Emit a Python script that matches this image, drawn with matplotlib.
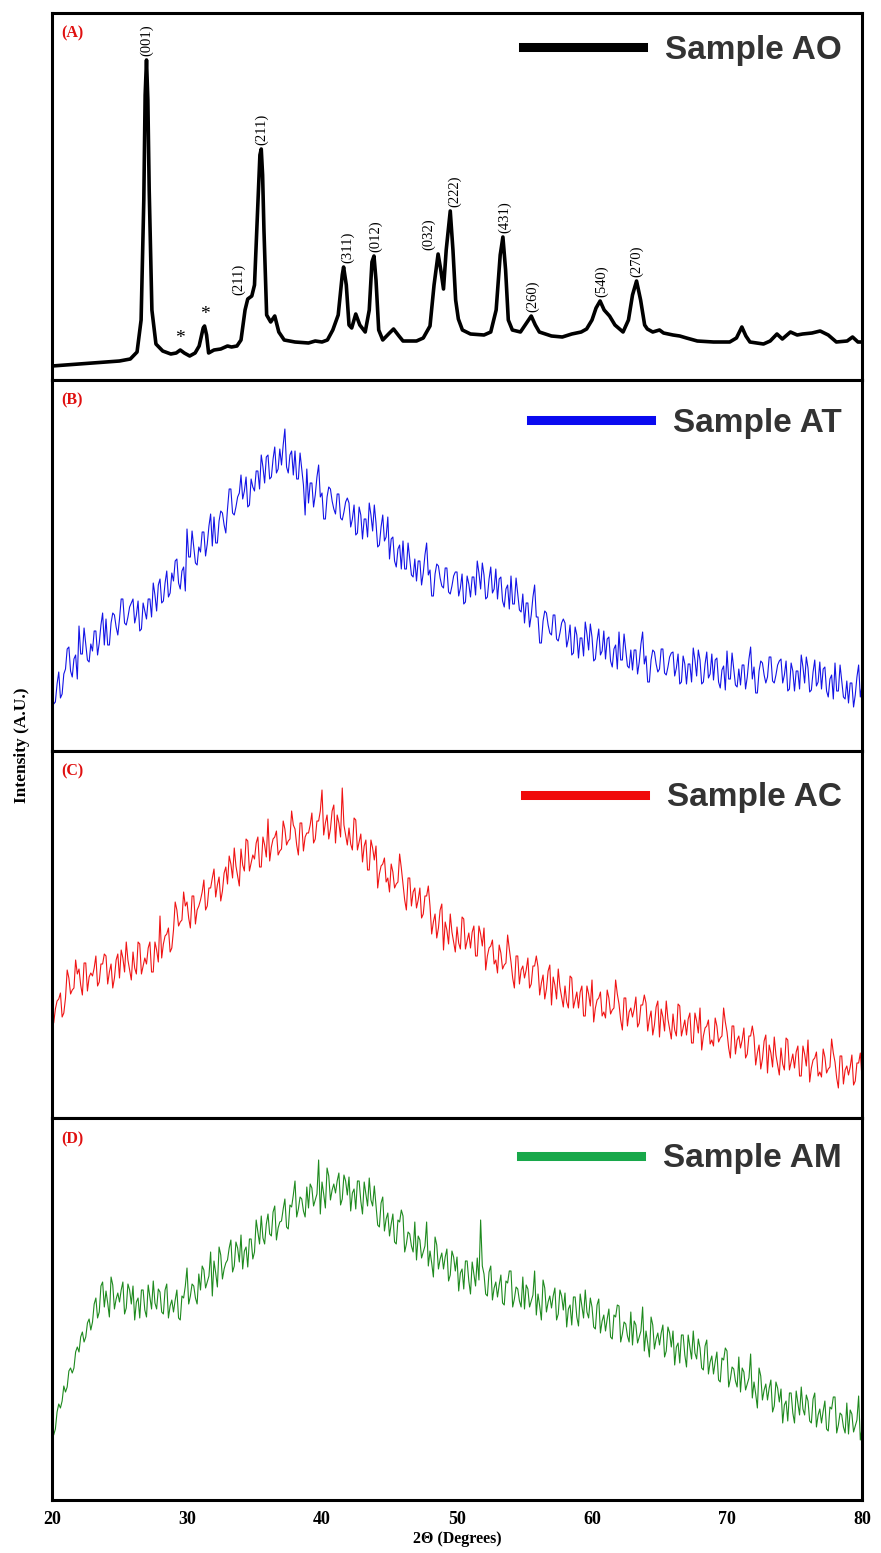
import numpy as np
import matplotlib
matplotlib.use("Agg")
import matplotlib.pyplot as plt

# 2-theta grid of the amorphous scans: readings every 0.25 deg plus the in-between ones
two_theta = np.arange(20, 80.001, 0.125)

# Sample AO - crystalline pattern (A.U.)
ao_x = [20.0, 21.0, 22.0, 23.0, 24.0, 25.0, 25.8, 26.3, 26.6, 26.8, 26.9, 27.0, 27.1, 27.2, 27.4, 27.7,
        28.2, 28.8, 29.2, 29.5, 29.8, 30.2, 30.6, 30.9, 31.2, 31.3, 31.45, 31.6, 32.0, 32.5,
        33.0, 33.3, 33.7, 34.0, 34.3, 34.5, 34.8, 35.0, 35.2, 35.4, 35.5, 35.6, 35.7, 35.9, 36.2,
        36.5, 36.8, 37.2, 38.0, 39.0, 39.5, 40.0, 40.4, 40.8, 41.2, 41.5, 41.6, 41.8, 42.0,
        42.2, 42.5, 42.8, 43.2, 43.5, 43.7, 43.85, 44.0, 44.2, 44.5, 45.0, 45.3, 45.7, 46.0,
        47.0, 47.5, 48.0, 48.3, 48.6, 48.8, 49.0, 49.2, 49.5, 49.7, 49.9, 50.1, 50.4, 51.0,
        52.0, 52.5, 52.9, 53.2, 53.4, 53.6, 53.8, 54.1, 54.7, 55.2, 55.5, 55.8, 56.1, 57.0,
        57.8, 58.5, 59.2, 59.6, 60.0, 60.3, 60.6, 60.9, 61.3, 61.7, 62.3, 62.7, 63.0, 63.3,
        63.6, 63.9, 64.1, 64.5, 65.0, 65.3, 66.0, 66.5, 67.0, 67.8, 69.0, 70.2, 70.7, 71.1,
        71.4, 71.7, 72.7, 73.2, 73.7, 74.1, 74.7, 75.2, 75.6, 76.3, 76.9, 77.5, 78.1, 78.9,
        79.3, 79.7, 80.0]
ao_y = [14, 15, 16, 17, 18, 19, 21, 28, 60, 180, 285, 320, 280, 190, 70, 36,
        29, 26, 27, 30, 27, 24, 27, 34, 52, 54, 45, 27, 30, 31,
        34, 33, 34, 40, 70, 81, 84, 95, 160, 225, 231, 205, 150, 65, 58,
        64, 48, 40, 38, 37, 39, 38, 40, 50, 65, 105, 113, 95, 55,
        52, 66, 55, 48, 70, 118, 124, 100, 50, 40, 47, 51, 44, 39,
        39, 42, 54, 95, 126, 110, 91, 130, 169, 130, 80, 61, 50, 46,
        45, 48, 70, 125, 143, 110, 60, 50, 48, 58, 64, 55, 48, 44,
        43, 46, 48, 51, 60, 72, 79, 70, 64, 55, 48, 60, 85, 99,
        80, 55, 51, 48, 50, 47, 45, 44, 42, 39, 38, 38, 42, 53,
        44, 38, 36, 39, 46, 41, 48, 45, 46, 47, 49, 45, 38, 39,
        43, 38, 38]

# hkl labels of sample AO
hkl = ['(001)', '(211)', '(211)', '(311)', '(012)', '(032)', '(222)', '(431)', '(260)', '(540)', '(270)']
hkl_pos = [27.0, 33.8, 35.5, 41.9, 44.0, 47.9, 49.85, 53.55, 55.6, 60.7, 63.3]
hkl_top = [320, 81, 231, 113, 124, 126, 169, 143, 64, 79, 99]
star_pos = [29.5, 31.3]
star_top = [30, 54]

# Sample AT, readings at 20.00, 20.25, ... 80.00
at_y = [71, 49, 79, 57, 82, 104, 74, 96,
        125, 97, 107, 89, 100, 120, 108, 138,
        132, 106, 138, 124, 132, 152, 126, 144,
        152, 136, 120, 148, 132, 152, 168, 140,
        172, 150, 180, 158, 170, 192, 162, 184,
        222, 194, 204, 186, 199, 219, 207, 237,
        234, 208, 240, 226, 242, 262, 236, 254,
        276, 260, 244, 272, 260, 280, 296, 268,
        296, 274, 304, 282, 286, 322, 278, 300,
        300, 272, 282, 236, 248, 268, 256, 286,
        258, 232, 264, 250, 237, 257, 231, 249,
        248, 232, 216, 244, 212, 232, 248, 220,
        228, 206, 236, 214, 192, 214, 184, 206,
        210, 182, 192, 174, 170, 190, 178, 208,
        181, 155, 187, 173, 163, 183, 157, 175,
        179, 163, 147, 175, 154, 174, 190, 162,
        176, 154, 184, 162, 152, 174, 144, 166,
        175, 147, 157, 139, 128, 148, 136, 166,
        134, 108, 140, 126, 116, 136, 110, 128,
        128, 112, 96, 124, 93, 113, 129, 101,
        114, 92, 122, 100, 92, 114, 84, 106,
        119, 91, 101, 83, 81, 101, 89, 119,
        95, 69, 101, 87, 82, 102, 76, 94,
        99, 83, 67, 95, 67, 87, 103, 75,
        91, 69, 99, 77, 71, 93, 63, 85,
        100, 72, 82, 64, 66, 86, 74, 104,
        84, 58, 90, 76, 74, 94, 68, 86,
        92, 76, 60, 88, 60, 80, 96, 68,
        83, 61, 91, 69, 62, 84, 54, 76,
        88, 60, 70, 52, 48, 68, 56, 86,
        66]
# Sample AT, readings at 20.125, 20.375, ... 79.875
at_mid = [47, 67, 53, 77, 102, 80, 92, 72,
          97, 123, 91, 107, 120, 96, 126, 106,
          106, 128, 136, 116, 152, 128, 134, 148,
          128, 150, 122, 140, 152, 134, 156, 166,
          148, 168, 154, 178, 190, 168, 180, 160,
          194, 220, 188, 204, 219, 195, 225, 205,
          208, 230, 238, 218, 262, 238, 244, 258,
          252, 274, 246, 264, 280, 262, 284, 294,
          272, 292, 278, 302, 306, 284, 296, 276,
          272, 298, 266, 282, 268, 244, 274, 254,
          232, 254, 262, 242, 257, 233, 239, 253,
          224, 246, 218, 236, 232, 214, 236, 246,
          204, 224, 210, 234, 212, 190, 202, 182,
          182, 208, 176, 192, 190, 166, 196, 176,
          155, 177, 185, 165, 183, 159, 165, 179,
          155, 177, 149, 167, 174, 156, 178, 188,
          152, 172, 158, 182, 172, 150, 162, 142,
          147, 173, 141, 157, 148, 124, 154, 134,
          108, 130, 138, 118, 136, 112, 118, 132,
          104, 126, 98, 116, 113, 95, 117, 127,
          90, 110, 96, 120, 112, 90, 102, 82,
          91, 117, 85, 101, 101, 77, 107, 87,
          69, 91, 99, 79, 102, 78, 84, 98,
          75, 97, 69, 87, 87, 69, 91, 101,
          67, 87, 73, 97, 91, 69, 81, 61,
          72, 98, 66, 82, 86, 62, 92, 72,
          58, 80, 88, 68, 94, 70, 76, 90,
          68, 90, 62, 80, 80, 62, 84, 94,
          59, 79, 65, 89, 82, 60, 72, 52,
          60, 86, 54, 70, 68, 44, 74, 54]

# Sample AC
ac_y = [137, 109, 119, 101, 120, 140, 128, 158,
        149, 123, 155, 141, 142, 162, 136, 154,
        162, 146, 130, 158, 140, 160, 176, 148,
        166, 144, 174, 152, 154, 176, 146, 168,
        202, 174, 184, 166, 188, 208, 196, 226,
        216, 190, 222, 208, 218, 238, 212, 230,
        249, 233, 217, 245, 234, 254, 270, 242,
        269, 247, 277, 255, 259, 281, 251, 273,
        299, 271, 281, 263, 269, 289, 277, 307,
        289, 263, 295, 281, 285, 305, 279, 297,
        328, 295, 279, 307, 275, 295, 330, 283,
        290, 268, 298, 276, 256, 278, 248, 270,
        272, 244, 254, 236, 226, 246, 234, 264,
        234, 208, 240, 226, 210, 230, 204, 222,
        212, 196, 180, 208, 168, 188, 204, 176,
        191, 169, 199, 177, 170, 192, 162, 184,
        190, 162, 172, 154, 145, 165, 153, 183,
        156, 130, 162, 148, 140, 160, 134, 152,
        151, 135, 119, 147, 113, 133, 149, 121,
        132, 110, 140, 118, 110, 132, 102, 124,
        138, 110, 120, 102, 100, 120, 108, 138,
        114, 88, 120, 106, 101, 121, 95, 113,
        115, 99, 83, 111, 81, 101, 117, 89,
        104, 82, 112, 90, 83, 105, 75, 97,
        110, 82, 92, 74, 72, 92, 80, 110,
        86, 60, 92, 78, 70, 90, 64, 82,
        81, 65, 49, 77, 45, 65, 81, 53,
        70, 48, 78, 56, 50, 72, 42, 64,
        78, 50, 60, 42, 41, 61, 49, 79,
        56, 30, 62, 48, 43, 63, 37, 55,
        40]
ac_mid = [95, 117, 125, 105, 148, 124, 130, 144,
          133, 155, 127, 145, 150, 132, 154, 164,
          134, 154, 140, 164, 168, 146, 158, 138,
          150, 176, 144, 160, 170, 146, 176, 156,
          160, 182, 190, 170, 216, 192, 198, 212,
          200, 222, 194, 212, 226, 208, 230, 240,
          221, 241, 227, 251, 262, 240, 252, 232,
          253, 279, 247, 263, 275, 251, 281, 261,
          257, 279, 287, 267, 297, 273, 279, 293,
          273, 295, 267, 285, 293, 275, 297, 307,
          283, 303, 289, 313, 303, 281, 293, 273,
          274, 300, 268, 284, 272, 248, 278, 258,
          230, 252, 260, 240, 254, 230, 236, 250,
          218, 240, 212, 230, 218, 200, 222, 232,
          184, 204, 190, 214, 196, 174, 186, 166,
          175, 201, 169, 185, 186, 162, 192, 172,
          148, 170, 178, 158, 173, 149, 155, 169,
          140, 162, 134, 152, 148, 130, 152, 162,
          123, 143, 129, 153, 141, 119, 131, 111,
          116, 142, 110, 126, 126, 102, 132, 112,
          96, 118, 126, 106, 128, 104, 110, 124,
          98, 120, 92, 110, 109, 91, 113, 123,
          87, 107, 93, 117, 109, 87, 99, 79,
          88, 114, 82, 98, 99, 75, 105, 85,
          68, 90, 98, 78, 100, 76, 82, 96,
          70, 92, 64, 82, 78, 60, 82, 92,
          53, 73, 59, 83, 73, 51, 63, 43,
          54, 80, 48, 64, 66, 42, 72, 52,
          36, 58, 66, 46, 69, 45, 51, 65,
          40, 62, 34, 52, 51, 33, 55, 65]

# Sample AM
am_y = [67, 71, 96, 99, 108, 129, 127, 148,
        148, 168, 163, 181, 178, 202, 188, 218,
        209, 183, 215, 201, 198, 218, 192, 210,
        214, 198, 182, 210, 183, 203, 219, 191,
        208, 186, 216, 194, 188, 210, 180, 202,
        232, 204, 214, 196, 210, 230, 218, 248,
        239, 213, 245, 231, 240, 260, 234, 252,
        265, 249, 233, 261, 248, 268, 284, 256,
        286, 264, 294, 272, 279, 301, 271, 293,
        319, 291, 301, 283, 292, 312, 300, 340,
        318, 292, 324, 310, 307, 327, 301, 319,
        323, 307, 291, 319, 286, 306, 322, 294,
        295, 273, 303, 281, 264, 286, 256, 278,
        284, 256, 266, 248, 240, 260, 248, 278,
        249, 223, 255, 241, 231, 251, 225, 243,
        243, 227, 211, 239, 206, 226, 242, 280,
        226, 204, 234, 212, 203, 225, 195, 217,
        229, 201, 211, 193, 191, 211, 199, 229,
        206, 180, 212, 198, 192, 212, 186, 204,
        207, 191, 175, 203, 174, 194, 210, 182,
        193, 171, 201, 179, 169, 191, 161, 183,
        194, 166, 176, 158, 155, 175, 163, 193,
        169, 143, 175, 161, 155, 175, 149, 167,
        169, 153, 137, 165, 133, 153, 169, 141,
        152, 130, 160, 138, 126, 148, 118, 140,
        149, 121, 131, 113, 108, 128, 116, 146,
        118, 92, 124, 110, 100, 120, 94, 112,
        111, 95, 79, 107, 77, 97, 113, 85,
        99, 77, 107, 85, 77, 99, 69, 91,
        103, 75, 85, 67, 66, 86, 74, 104,
        72]
am_mid = [65, 88, 92, 114, 113, 132, 132, 153,
          163, 158, 177, 170, 196, 182, 214, 193,
          197, 223, 191, 207, 210, 186, 216, 196,
          180, 202, 210, 190, 215, 191, 197, 211,
          188, 210, 182, 200, 200, 182, 204, 214,
          196, 216, 202, 226, 234, 212, 224, 204,
          227, 253, 221, 237, 252, 228, 258, 238,
          231, 253, 261, 241, 280, 256, 262, 276,
          266, 288, 260, 278, 291, 273, 295, 305,
          283, 303, 289, 313, 316, 294, 306, 286,
          306, 332, 300, 316, 319, 295, 325, 305,
          289, 311, 319, 299, 318, 294, 300, 314,
          275, 297, 269, 287, 276, 258, 280, 290,
          248, 268, 254, 278, 264, 242, 254, 234,
          237, 263, 231, 247, 243, 219, 249, 229,
          209, 231, 239, 219, 238, 214, 220, 234,
          206, 228, 200, 218, 215, 197, 219, 229,
          193, 213, 199, 223, 215, 193, 205, 185,
          194, 220, 188, 204, 204, 180, 210, 190,
          173, 195, 203, 183, 206, 182, 188, 202,
          173, 195, 167, 185, 181, 163, 185, 195,
          158, 178, 164, 188, 179, 157, 169, 149,
          157, 183, 151, 167, 167, 143, 173, 153,
          135, 157, 165, 145, 165, 141, 147, 161,
          132, 154, 126, 144, 138, 120, 142, 152,
          113, 133, 119, 143, 132, 110, 122, 102,
          106, 132, 100, 116, 112, 88, 118, 98,
          77, 99, 107, 87, 109, 85, 91, 105,
          79, 101, 73, 91, 89, 71, 93, 103,
          67, 87, 73, 97, 90, 68, 80, 60]


def merge(main, mid):
    # put the 0.25-deg readings and the in-between readings in scan order
    out = np.empty(len(main) + len(mid))
    out[0::2] = main
    out[1::2] = mid
    return out


names = ['Sample AO', 'Sample AT', 'Sample AC', 'Sample AM']
tags = ['(A)', '(B)', '(C)', '(D)']

#~~~~~~~~~~~~~~ styling
line_cols = ['black', '#1414e6', '#f01414', '#1e8a1e']
leg_cols = ['black', '#0a0af0', '#f00a0a', '#18a84a']
line_w = [2.6, 0.8, 0.8, 0.8]
heights = [367, 371, 367, 382]
leg_y = [0.899, 0.884, 0.872, 0.893]
serif = 'Liberation Serif'
sans = 'Liberation Sans'

fig = plt.figure(figsize=(8.81, 15.53), dpi=100)
gs = fig.add_gridspec(4, 1, height_ratios=heights, hspace=0,
                      left=52/881, right=862/881, top=1-13/1553, bottom=1-1500/1553)
axes = [fig.add_subplot(gs[i]) for i in range(4)]

series = [(ao_x, ao_y),
          (two_theta, merge(at_y, at_mid)),
          (two_theta, merge(ac_y, ac_mid)),
          (two_theta, merge(am_y, am_mid))]
for i, ax in enumerate(axes):
    xs, ys = series[i]
    ax.plot(xs, ys, color=line_cols[i], lw=line_w[i], label=names[i])
    ax.set_xlim(20, 80)
    ax.set_ylim(0, heights[i])
    ax.set_yticks([])
    for s in ax.spines.values():
        s.set_linewidth(2.2)
    ax.tick_params(axis='x', length=0)
    if i < 3:
        ax.set_xticklabels([])
    ax.text(0.012, 0.945, tags[i], transform=ax.transAxes, color='#e01010',
            fontsize=11.5, fontweight='bold', family=serif, va='center', ha='left')
    leg = ax.legend(loc='center right', bbox_to_anchor=(0.975, leg_y[i]), frameon=False,
                    handlelength=3.6, handletextpad=0.65, borderpad=0, borderaxespad=0,
                    prop={'family': sans, 'weight': 'bold', 'size': 24})
    for h in leg.legend_handles:
        h.set_linewidth(6.5)
        h.set_color(leg_cols[i])
    for t in leg.get_texts():
        t.set_color('#333333')

# hkl and impurity markers on sample AO
axA = axes[0]
for lab, xp, yt in zip(hkl, hkl_pos, hkl_top):
    axA.annotate(lab, (xp, yt), xytext=(0, 3), textcoords='offset points',
                 rotation=90, ha='center', va='bottom', fontsize=10.5, family=serif)
for xp, yt in zip(star_pos, star_top):
    axA.annotate('*', (xp, yt), xytext=(0, 2), textcoords='offset points',
                 ha='center', va='bottom', fontsize=14, family=serif)

axD = axes[3]
axD.set_xticks([20, 30, 40, 50, 60, 70, 80])
for t in axD.get_xticklabels():
    t.set_fontfamily(serif)
    t.set_fontweight('bold')
    t.set_fontsize(13)
axD.tick_params(axis='x', pad=8)
axD.set_xlabel('2\u0398 (Degrees)', family=serif, fontweight='bold', fontsize=11.5, labelpad=2)

fig.text(0.025, 1-745/1553, 'Intensity (A.U.)', rotation=90, ha='center', va='center',
         family=serif, fontweight='bold', fontsize=12.5)

plt.savefig('out.png', dpi=100)
